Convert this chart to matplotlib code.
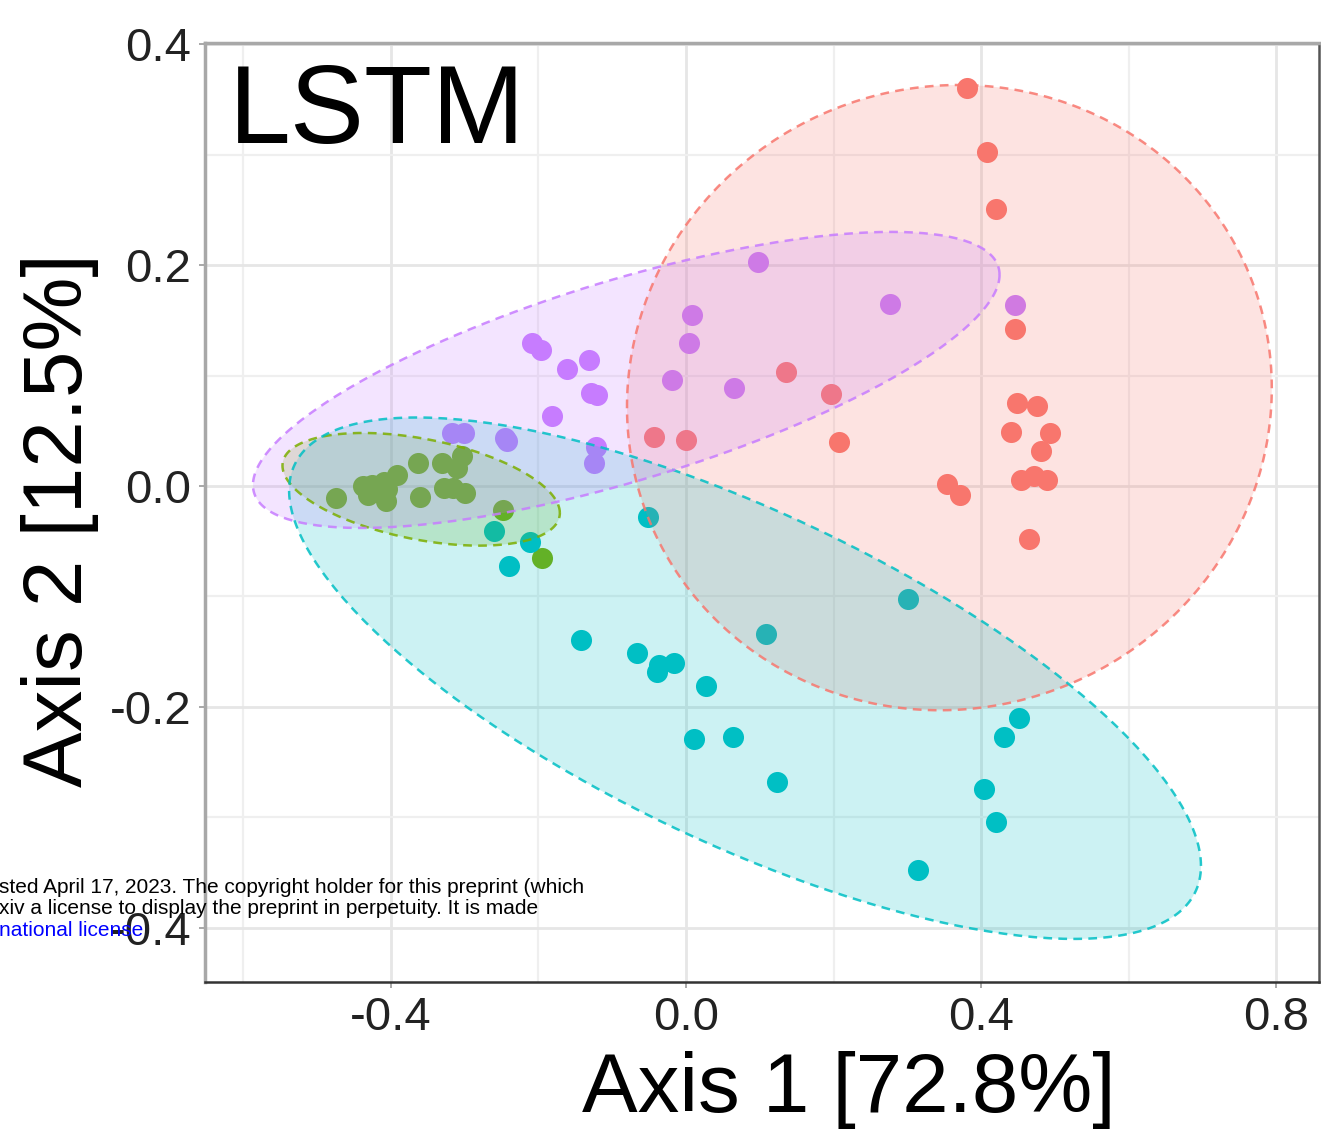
import numpy as np
import matplotlib
matplotlib.use("Agg")
import matplotlib.pyplot as plt
from matplotlib.ticker import MultipleLocator

plt.rcParams['font.family'] = ['Liberation Sans', 'DejaVu Sans']

# group order follows the ggplot hue palette
group_names = ['red', 'green', 'teal', 'purple']
group_colors = ['#F8766D', '#7CAE00', '#00BFC4', '#C77CFF']

red_x = [0.381, 0.408, 0.420, 0.446, 0.136, 0.197, -0.043, 0.000, 0.207, 0.449,
         0.476, 0.441, 0.494, 0.481, 0.354, 0.372, 0.454, 0.472, 0.489, 0.465]
red_y = [0.360, 0.302, 0.251, 0.142, 0.103, 0.083, 0.044, 0.042, 0.040, 0.075,
         0.072, 0.049, 0.048, 0.032, 0.002, -0.008, 0.005, 0.009, 0.005, -0.048]

green_x = [-0.475, -0.438, -0.426, -0.431, -0.409, -0.405, -0.407, -0.392, -0.363,
           -0.361, -0.331, -0.328, -0.311, -0.304, -0.316, -0.300, -0.248, -0.195]
green_y = [-0.011, 0.000, 0.001, -0.008, 0.004, -0.003, -0.014, 0.010, 0.021,
           -0.010, 0.021, -0.002, 0.016, 0.027, -0.002, -0.006, -0.022, -0.065]

teal_x = [-0.052, -0.260, -0.212, -0.240, 0.301, 0.108, -0.142, -0.066, -0.037, -0.039,
          -0.016, 0.027, 0.011, 0.064, 0.123, 0.452, 0.431, 0.404, 0.420, 0.315]
teal_y = [-0.028, -0.041, -0.051, -0.072, -0.102, -0.134, -0.139, -0.151, -0.162, -0.168,
          -0.160, -0.181, -0.229, -0.227, -0.268, -0.210, -0.227, -0.274, -0.304, -0.348]

purple_x = [0.098, 0.277, 0.446, 0.008, 0.004, -0.209, -0.197, -0.132, -0.161, -0.019,
            0.065, -0.129, -0.121, -0.182, -0.317, -0.301, -0.245, -0.243, -0.122, -0.125]
purple_y = [0.203, 0.165, 0.164, 0.155, 0.129, 0.129, 0.123, 0.114, 0.106, 0.096,
            0.089, 0.084, 0.082, 0.063, 0.048, 0.048, 0.043, 0.041, 0.035, 0.021]

# ellipse shape per group: centre, spread in x / y, correlation
ell_cx = [0.357, -0.359, 0.080, -0.081]
ell_cy = [0.080, -0.003, -0.174, 0.096]
ell_sx = [0.437, 0.188, 0.618, 0.506]
ell_sy = [0.283, 0.051, 0.236, 0.134]
ell_rho = [0.03, -0.42, -0.72, 0.71]

xs = [red_x, green_x, teal_x, purple_x]
ys = [red_y, green_y, teal_y, purple_y]

fig = plt.figure(figsize=(13.21, 11.37), dpi=100)
ax = fig.add_axes([205 / 1321, 1 - 982 / 1137, 1114 / 1321, 939 / 1137])

for i in range(4):
    ax.scatter(xs[i], ys[i], s=230, color=group_colors[i], linewidths=0, zorder=2)

t = np.linspace(0, 2 * np.pi, 300)
for i in range(4):
    ex = ell_cx[i] + ell_sx[i] * np.cos(t)
    ey = ell_cy[i] + ell_sy[i] * (ell_rho[i] * np.cos(t) + np.sqrt(1 - ell_rho[i] ** 2) * np.sin(t))
    ax.fill(ex, ey, color=group_colors[i], alpha=0.2, linewidth=0, zorder=3)
    ax.plot(ex, ey, color=group_colors[i], lw=1.8, dashes=(3.5, 2.5), alpha=0.85, zorder=4)

ax.set_xlim(-0.652, 0.858)
ax.set_ylim(-0.449, 0.401)
ax.xaxis.set_major_locator(MultipleLocator(0.4))
ax.xaxis.set_minor_locator(MultipleLocator(0.2))
ax.yaxis.set_major_locator(MultipleLocator(0.2))
ax.yaxis.set_minor_locator(MultipleLocator(0.1))
ax.set_xticks([-0.4, 0.0, 0.4, 0.8])
ax.set_xticklabels(['-0.4', '0.0', '0.4', '0.8'])
ax.set_yticks([-0.4, -0.2, 0.0, 0.2, 0.4])
ax.set_yticklabels(['-0.4', '-0.2', '0.0', '0.2', '0.4'])

ax.grid(True, which='major', color='#E6E6E6', lw=2.0, zorder=0)
ax.grid(True, which='minor', color='#EFEFEF', lw=1.6, zorder=0)
ax.set_axisbelow(True)
ax.tick_params(which='major', length=4, width=1.2, color='#999999',
               labelsize=34, labelcolor='#222222', pad=6)
ax.tick_params(which='minor', length=0)

for side, col, w in [('left', '#A8A8A8', 2.5), ('top', '#A8A8A8', 2.5),
                     ('bottom', '#333333', 1.8), ('right', '#555555', 1.8)]:
    ax.spines[side].set_color(col)
    ax.spines[side].set_linewidth(w)

ax.set_xlabel('Axis 1 [72.8%]', fontsize=60, color='black')
ax.set_ylabel('Axis 2 [12.5%]', fontsize=60, color='black')
ax.xaxis.set_label_coords(0.578, -0.115)
ax.yaxis.set_label_coords(-0.130, 0.492)
ax.xaxis.label.set_va('center')
ax.yaxis.label.set_va('center')

ax.text(0.021, 0.8935, 'LSTM', transform=ax.transAxes, fontsize=80,
        ha='left', va='baseline', color='black', zorder=6)

# preprint banner overlapping the figure
fig.text(-0.001, 1 - 893 / 1137,
         'sted April 17, 2023. The copyright holder for this preprint (which',
         fontsize=15, color='black', va='baseline')
fig.text(-0.001, 1 - 914 / 1137,
         'xiv a license to display the preprint in perpetuity. It is made',
         fontsize=15, color='black', va='baseline')
fig.text(-0.001, 1 - 936 / 1137, 'national license',
         fontsize=15, color='#0000FF', va='baseline')

fig.savefig('out.png', dpi=100)
